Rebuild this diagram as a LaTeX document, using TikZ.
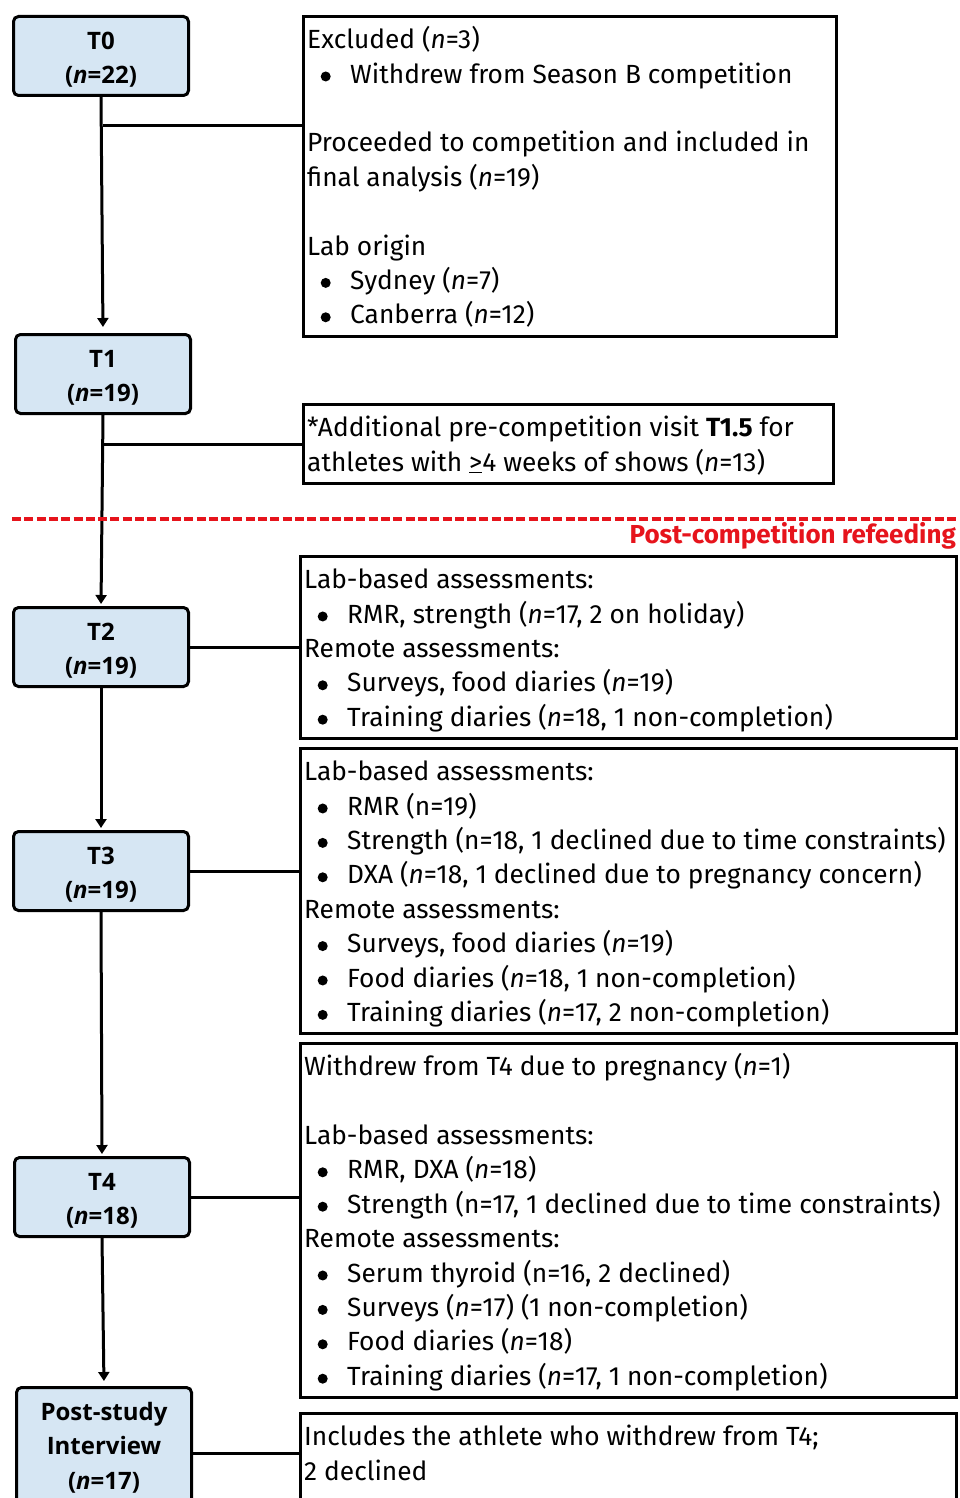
\documentclass[tikz,border=0pt]{standalone}
\usepackage{fontspec}
\usepackage{graphicx}
\setmainfont{Fira Sans}
\newfontfamily\lblfont{Open Sans}
\usetikzlibrary{arrows.meta,calc}
\definecolor{tbox}{RGB}{214,230,243}
\definecolor{redline}{RGB}{230,20,28}
\newcommand{\itm}{\makebox[43pt][l]{\hspace{13.5pt}\smash{\tikz[baseline=0pt]\fill (5pt,6.6pt) circle[radius=5pt];}}}
\newcommand{\nn}{\textit{n}}
\newcommand{\topgap}{\rule{0pt}{25pt}}
\begin{document}
\begin{tikzpicture}[x=1pt,y=-1pt,
  tnode/.style={draw, line width=3pt, rounded corners=5pt, fill=tbox, anchor=north west,
    minimum width=175pt, minimum height=79pt, inner sep=0pt, align=center,
    font=\lblfont\bfseries\fontsize{24}{34.6}\selectfont},
  infobox/.style={draw, line width=3pt, anchor=north west, inner sep=0pt},
  txt/.style={anchor=north west, align=left, inner sep=0pt,
    font=\fontsize{26.3}{34.4}\selectfont},
  flow/.style={line width=3pt, -{Triangle[width=11pt,length=9pt]}},
  link/.style={line width=3pt}
]
\useasboundingbox (0,0) rectangle (959,1498);

% left column nodes
\node[tnode] (T0) at (12,15) {\topgap T0\\(\textit{n}=22)};
\node[tnode] (T1) at (14,333) {\topgap T1\\(\textit{n}=19)};
\node[tnode] (T2) at (12,606) {\topgap T2\\(\textit{n}=19)};
\node[tnode] (T3) at (12,830) {\topgap T3\\(\textit{n}=19)};
\node[tnode] (T4) at (13,1156) {\topgap T4\\(\textit{n}=18)};
\node[tnode, minimum height=120pt] (PS) at (15,1386) {Post-study\\Interview\\(\textit{n}=17)};

% right column boxes
\node[infobox, minimum width=533pt, minimum height=320pt] (B1) at (302,15) {};
\node[infobox, minimum width=530pt, minimum height=79pt] (B2) at (302,403) {};
\node[infobox, minimum width=656pt, minimum height=182pt] (B3) at (299,555) {};
\node[infobox, minimum width=656pt, minimum height=285pt] (B4) at (299,747) {};
\node[infobox, minimum width=656pt, minimum height=354pt] (B5) at (299,1042) {};
\node[infobox, minimum width=656pt, minimum height=120pt] (B6) at (299,1412) {};

\node[txt] (t1) at (307,24.4) {\strut Excluded (\nn=3)\\
\itm Withdrew from Season B competition\\
\strut\\
Proceeded to competition and included in\\
final analysis (\nn=19)\\
\strut\\
Lab origin\\
\itm Sydney (\nn=7)\\
\itm Canberra (\nn=12)};

\node[txt] (t2) at (307,412.4) {\strut *Additional pre-competition visit \textbf{T1.5} for\\
athletes with \underline{>}4 weeks of shows (\nn=13)};

\node[txt] (t3) at (304,564.4) {\strut Lab-based assessments:\\
\itm RMR, strength (\nn=17, 2 on holiday)\\
Remote assessments:\\
\itm Surveys, food diaries (\nn=19)\\
\itm Training diaries (\nn=18, 1 non-completion)};

\node[txt] (t4) at (304,756.4) {\strut Lab-based assessments:\\
\itm RMR (n=19)\\
\itm Strength (n=18, 1 declined due to time constraints)\\
\itm DXA (\nn=18, 1 declined due to pregnancy concern)\\
Remote assessments:\\
\itm Surveys, food diaries (\nn=19)\\
\itm Food diaries (\nn=18, 1 non-completion)\\
\itm Training diaries (\nn=17, 2 non-completion)};

\node[txt] (t5) at (304,1051.4) {\strut Withdrew from T4 due to pregnancy (\nn=1)\\
\strut\\
Lab-based assessments:\\
\itm RMR, DXA (\nn=18)\\
\itm Strength (n=17, 1 declined due to time constraints)\\
Remote assessments:\\
\itm Serum thyroid (n=16, 2 declined)\\
\itm Surveys (\nn=17) (1 non-completion)\\
\itm Food diaries (\nn=18)\\
\itm Training diaries (\nn=17, 1 non-completion)};

\node[txt] (t6) at (304,1421.4) {\strut Includes the athlete who withdrew from T4;\\
2 declined};

% vertical flow
\draw[flow, shorten >=6pt] (T0.south) -- (T1.north);
\draw[flow, shorten >=2pt] (T1.south) -- (T2.north);
\draw[flow, shorten >=2pt] (T2.south) -- (T3.north);
\draw[flow, shorten >=2pt] (T3.south) -- (T4.north);
\draw[flow, shorten >=5pt] (T4.south) -- (PS.north);

% side links
\coordinate (j1) at (103,126);
\draw[link] (j1) -- (j1 -| B1.west);
\coordinate (j2) at (104,444);
\draw[link] (j2) -- (j2 -| B2.west);
\draw[link] (T2.east) -- (T2.east -| B3.west);
\draw[link] (T3.east) -- (T3.east -| B4.west);
\draw[link] (T4.east) -- (T4.east -| B5.west);
\coordinate (j6) at (0,1453);
\draw[link] (j6 -| PS.east) -- (j6 -| B6.west);

% dashed divider (drawn on top)
\coordinate (dl) at (12,519);
\coordinate (dr) at (959,519);
\draw[redline, line width=3.6pt, dash pattern=on 9pt off 3.3pt] (dl) -- (dr);
\node[anchor=east, inner sep=0pt, text=redline, font=\bfseries\fontsize{26}{30}\selectfont] (refeed) at (956,536) {Post-competition refeeding};
\end{tikzpicture}
\end{document}
